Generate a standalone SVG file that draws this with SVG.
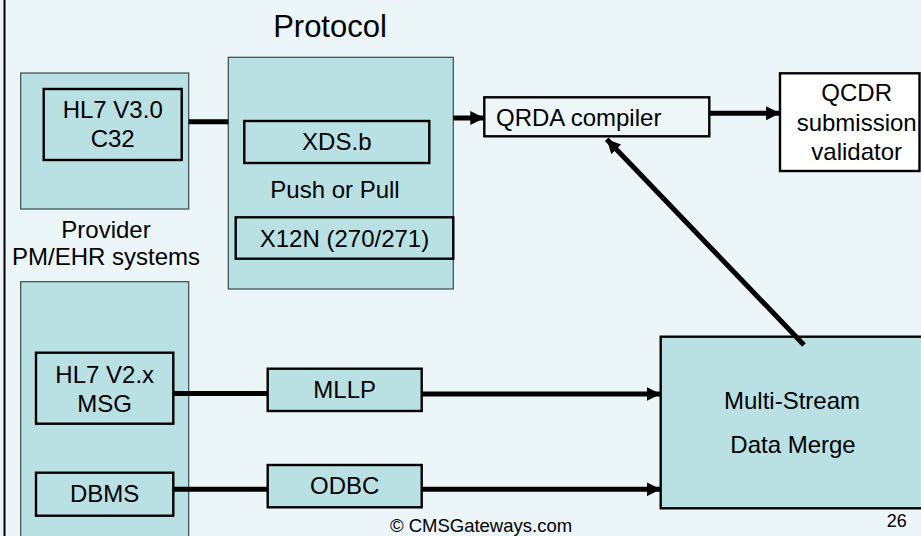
<svg xmlns="http://www.w3.org/2000/svg" width="921" height="536" viewBox="0 0 921 536">
<defs>
<style>
text{font-family:"Liberation Sans",Arial,sans-serif;font-size:24px;fill:#000}
.c{text-anchor:middle}
.outer{fill:#B9E0E3;stroke:#3a4a4c;stroke-width:1.2}
.inner{fill:none;stroke:#000;stroke-width:2.4}
.tealbox{fill:#B9E0E3;stroke:#000;stroke-width:2.4}
.white{fill:#fff;stroke:#000;stroke-width:2.4}
.lt{fill:#EEF6F8;stroke:#000;stroke-width:2.4}
.conn{stroke:#000;stroke-width:5;fill:none}
</style>
<marker id="ah" markerUnits="userSpaceOnUse" markerWidth="14" markerHeight="14" refX="14" refY="7" orient="auto">
<path d="M0,0 L14,7 L0,14 z" fill="#000"/>
</marker>
</defs>
<rect x="0" y="0" width="921" height="536" fill="#ECF5F7"/>
<line x1="4.5" y1="0" x2="4.5" y2="536" stroke="#000" stroke-width="2"/>
<text class="c" x="330" y="37" style="font-size:31px">Protocol</text>

<g id="provider-top">
<rect class="outer" x="20.7" y="73" width="168" height="136"/>
</g>
<g id="hl7v3">
<rect class="inner" x="43.7" y="89" width="138" height="71"/>
<text class="c" x="112.7" y="118">HL7 V3.0</text>
<text class="c" x="112.7" y="146.5">C32</text>
</g>
<g id="provider-label">
<text class="c" x="106" y="238">Provider</text>
<text class="c" x="106" y="265">PM/EHR systems</text>
</g>
<g id="protocol">
<rect class="outer" x="228.3" y="57.3" width="225" height="231.7"/>
<text class="c" x="335" y="197.5">Push or Pull</text>
</g>
<g id="xdsb">
<rect class="inner" x="244.3" y="121" width="185" height="42"/>
<text class="c" x="336.8" y="150">XDS.b</text>
</g>
<g id="x12n">
<rect class="inner" x="235.7" y="217.3" width="217.6" height="41.4"/>
<text class="c" x="344.5" y="246.5">X12N (270/271)</text>
</g>
<g id="qrda">
<rect class="lt" x="484.3" y="97.3" width="225" height="39"/>
<text x="496" y="126">QRDA compiler</text>
</g>
<g id="qcdr">
<rect class="white" x="780" y="73.3" width="139.5" height="97.7"/>
<text class="c" x="856.7" y="101">QCDR</text>
<text class="c" x="856.7" y="130.5">submission</text>
<text class="c" x="856.7" y="159.5">validator</text>
</g>
<g id="provider-bottom">
<rect class="outer" x="20.7" y="281.7" width="168" height="270"/>
</g>
<g id="hl7v2">
<rect class="inner" x="36" y="352.7" width="137.3" height="71"/>
<text class="c" x="104.7" y="382.5">HL7 V2.x</text>
<text class="c" x="104.7" y="411.5">MSG</text>
</g>
<g id="dbms">
<rect class="inner" x="36" y="472.7" width="137.3" height="43"/>
<text class="c" x="104.7" y="502.3">DBMS</text>
</g>
<g id="mllp">
<rect class="tealbox" x="267.7" y="368.7" width="154" height="42.3"/>
<text class="c" x="344.7" y="398.3">MLLP</text>
</g>
<g id="odbc">
<rect class="tealbox" x="267.7" y="465" width="154" height="42.3"/>
<text class="c" x="344.7" y="494.3">ODBC</text>
</g>
<g id="merge">
<rect class="tealbox" x="660.7" y="336.7" width="270" height="171.6"/>
<text class="c" x="792" y="409.3">Multi-Stream</text>
<text class="c" x="793" y="452.7">Data Merge</text>
</g>
<g id="connectors">
<line class="conn" x1="188.7" y1="121.7" x2="228.3" y2="121.7"/>
<line class="conn" x1="453.3" y1="118" x2="484.3" y2="118" marker-end="url(#ah)"/>
<line class="conn" x1="709.3" y1="113.3" x2="780" y2="113.3" marker-end="url(#ah)"/>
<line class="conn" x1="804" y1="345" x2="606.7" y2="139.3" marker-end="url(#ah)"/>
<line class="conn" x1="173.3" y1="393.5" x2="267.7" y2="393.5"/>
<line class="conn" x1="421.7" y1="394" x2="660.7" y2="394" marker-end="url(#ah)"/>
<line class="conn" x1="173.3" y1="489.3" x2="267.7" y2="489.3"/>
<line class="conn" x1="421.7" y1="489.3" x2="660.7" y2="489.3" marker-end="url(#ah)"/>
</g>
<text class="c" x="481" y="531.5" style="font-size:18.5px">© CMSGateways.com</text>
<text class="c" x="896.7" y="527" style="font-size:18px">26</text>
</svg>
